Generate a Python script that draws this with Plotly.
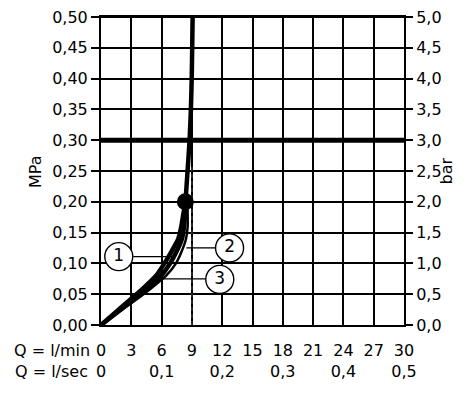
import plotly.graph_objects as go

# ---- data ----
# pressure points (MPa) for the lower part of the curves
P_LOW = [0, 0.02, 0.04, 0.06, 0.08, 0.10, 0.12, 0.14, 0.16, 0.18, 0.20]
Q_CURVE1 = [0, 1.4, 2.8, 4.2, 5.45, 6.28, 7.0, 7.65, 7.95, 8.15, 8.35]
Q_CURVE3 = [0, 1.55, 3.1, 4.6, 5.95, 6.85, 7.5, 8.02, 8.22, 8.32, 8.4]
Q_CURVE2 = [0, 1.7, 3.4, 5.0, 6.45, 7.42, 8.0, 8.42, 8.58, 8.58, 8.55]
# common upper part
P_HIGH = [0.20, 0.25, 0.30, 0.35, 0.40, 0.45, 0.50]
Q_HIGH = [8.35, 8.57, 8.77, 8.9, 8.98, 9.03, 9.07]
# operating point
POINT_Q = [8.35]
POINT_P = [0.20]
# reference lines
REF_PRESSURE = 0.30
REF_FLOW = 9
REF_FLOW_TOP = 0.26

# ticks
Q_MIN_TICKS = [0, 3, 6, 9, 12, 15, 18, 21, 24, 27, 30]
Q_SEC_LABELS = ["0", "", "0,1", "", "0,2", "", "0,3", "", "0,4", "", "0,5"]
MPA_TICKS = [0, 0.05, 0.10, 0.15, 0.20, 0.25, 0.30, 0.35, 0.40, 0.45, 0.50]
MPA_LABELS = ["0,00", "0,05", "0,10", "0,15", "0,20", "0,25", "0,30", "0,35", "0,40", "0,45", "0,50"]
BAR_TICKS = [0, 0.5, 1.0, 1.5, 2.0, 2.5, 3.0, 3.5, 4.0, 4.5, 5.0]
BAR_LABELS = ["0,0", "0,5", "1,0", "1,5", "2,0", "2,5", "3,0", "3,5", "4,0", "4,5", "5,0"]

# curve labels
LABELS = ["1", "2", "3"]

FONT = "DejaVu Sans"
BLACK = "#000000"

fig = go.Figure()

# dashed reference flow
fig.add_trace(go.Scatter(x=[REF_FLOW, REF_FLOW], y=[0, REF_FLOW_TOP], mode="lines",
                         line=dict(color="#333333", width=1.5, dash="4px,3px"),
                         hoverinfo="skip", showlegend=False))

# curves
fig.add_trace(go.Scatter(x=Q_CURVE2, y=P_LOW, mode="lines",
                         line=dict(color=BLACK, width=2.5, shape="spline", smoothing=0.6),
                         hoverinfo="skip", showlegend=False))
fig.add_trace(go.Scatter(x=Q_CURVE3, y=P_LOW, mode="lines",
                         line=dict(color=BLACK, width=4.5, shape="spline", smoothing=0.6),
                         hoverinfo="skip", showlegend=False))
fig.add_trace(go.Scatter(x=Q_CURVE1 + Q_HIGH[1:], y=P_LOW + P_HIGH[1:], mode="lines",
                         line=dict(color=BLACK, width=4.5, shape="spline", smoothing=0.6),
                         hoverinfo="skip", showlegend=False))

# operating point
fig.add_trace(go.Scatter(x=POINT_Q, y=POINT_P, mode="markers",
                         marker=dict(color=BLACK, size=17),
                         hoverinfo="skip", showlegend=False))

# leader lines and circle labels
leaders = [
    ((3.2, 7.05), 0.111),
    ((8.45, 11.4), 0.1252),
    ((6.07, 10.4), 0.0748),
]
for (x0, x1), yy in leaders:
    fig.add_trace(go.Scatter(x=[x0, x1], y=[yy, yy], mode="lines",
                             line=dict(color=BLACK, width=1.3),
                             hoverinfo="skip", showlegend=False))

circle_pos = [(1.76, 0.111), (12.73, 0.1252), (11.76, 0.0740)]
fig.add_trace(go.Scatter(
    x=[c[0] for c in circle_pos], y=[c[1] for c in circle_pos],
    mode="markers+text", text=LABELS, textposition="middle center",
    textfont=dict(family=FONT, size=17, color=BLACK),
    marker=dict(symbol="circle", size=28, color="white", line=dict(color=BLACK, width=1.4)),
    hoverinfo="skip", showlegend=False))

# invisible trace for right axis
fig.add_trace(go.Scatter(x=[0, 0], y=[0, 5], yaxis="y2", mode="lines",
                         line=dict(width=0), opacity=0, hoverinfo="skip", showlegend=False))

# thick 0.30 line and top border
fig.add_shape(type="line", xref="x", yref="y", x0=0, x1=30, y0=REF_PRESSURE, y1=REF_PRESSURE,
              line=dict(color=BLACK, width=5), layer="below")
fig.add_shape(type="line", xref="paper", yref="paper", x0=0, x1=1, y0=1, y1=1,
              line=dict(color=BLACK, width=2), layer="above")

ticktext = [f"{q}<br>{s}" if s else f"{q}" for q, s in zip(Q_MIN_TICKS, Q_SEC_LABELS)]

fig.update_layout(
    width=470, height=395,
    margin=dict(l=93, r=74, t=9, b=78, autoexpand=False),
    paper_bgcolor="white", plot_bgcolor="white",
    font=dict(family=FONT, size=16, color=BLACK),
    showlegend=False,
    xaxis=dict(range=[0, 30], tickvals=Q_MIN_TICKS, ticktext=ticktext, automargin=False,
               showgrid=True, gridcolor=BLACK, gridwidth=1.5,
               showline=True, linecolor=BLACK, linewidth=2, mirror=True,
               ticks="", ticklabelstandoff=10, zeroline=False, ticklabeloverflow="allow",
               tickfont=dict(family=FONT, size=16, color=BLACK)),
    yaxis=dict(range=[0, 0.5], tickvals=MPA_TICKS, ticktext=MPA_LABELS, automargin=False,
               showgrid=True, gridcolor=BLACK, gridwidth=1.5,
               showline=True, linecolor=BLACK, linewidth=2, ticklabeloverflow="allow",
               ticks="outside", ticklen=8, tickwidth=1.5, tickcolor=BLACK,
               zeroline=False, tickfont=dict(family=FONT, size=16, color=BLACK)),
    yaxis2=dict(range=[0, 5], tickvals=BAR_TICKS, ticktext=BAR_LABELS, automargin=False,
                overlaying="y", side="right", showgrid=False, ticklabeloverflow="allow",
                showline=True, linecolor=BLACK, linewidth=2,
                ticks="outside", ticklen=7, tickwidth=1.5, tickcolor=BLACK,
                zeroline=False, tickfont=dict(family=FONT, size=16, color=BLACK)),
    annotations=[
        dict(text="MPa", xref="paper", yref="paper", x=-0.218, y=0.5, textangle=-90,
             showarrow=False, xanchor="center", yanchor="middle", font=dict(size=16)),
        dict(text="bar", xref="paper", yref="paper", x=1.14, y=0.5, textangle=-90,
             showarrow=False, xanchor="center", yanchor="middle", font=dict(size=16)),
        dict(text="Q = l/min", xref="paper", yref="paper", x=-0.030, y=-0.0828,
             showarrow=False, xanchor="right", yanchor="middle", font=dict(size=16)),
        dict(text="Q = l/sec", xref="paper", yref="paper", x=-0.037, y=-0.151,
             showarrow=False, xanchor="right", yanchor="middle", font=dict(size=16)),
    ],
)

fig.write_html("out.html")
